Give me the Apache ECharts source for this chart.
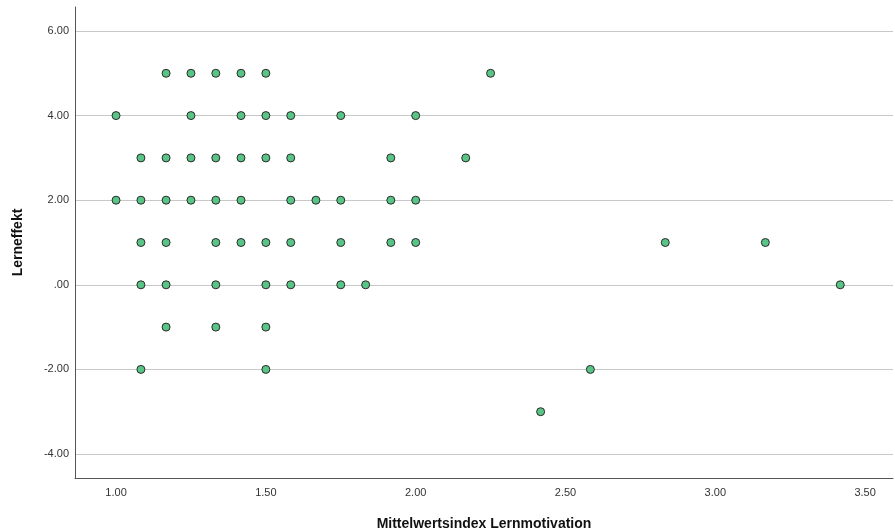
<!DOCTYPE html>
<html>
<head>
<meta charset="utf-8">
<script src="https://cdn.jsdelivr.net/npm/echarts@6/dist/echarts.min.js"></script>
<style>
  html, body { margin: 0; padding: 0; background: #fff; }
  #chart { width: 895px; height: 530px; }
</style>
</head>
<body>
<div id="chart"></div>
<script>
// Lernmotivation index is on a 1/12 grid, Lerneffekt is integer
var xTicks = [1, 1.5, 2, 2.5, 3, 3.5];
var yTicks = [-4, -2, 0, 2, 4, 6];

var row5 = [1.167, 1.25, 1.333, 1.417, 1.5, 2.25];
var row4 = [1.0, 1.25, 1.417, 1.5, 1.583, 1.75, 2.0];
var row3 = [1.083, 1.167, 1.25, 1.333, 1.417, 1.5, 1.583, 1.917, 2.167];
var row2 = [1.0, 1.083, 1.167, 1.25, 1.333, 1.417, 1.583, 1.667, 1.75, 1.917, 2.0];
var row1 = [1.083, 1.167, 1.333, 1.417, 1.5, 1.583, 1.75, 1.917, 2.0, 2.833, 3.167];
var row0 = [1.083, 1.167, 1.333, 1.5, 1.583, 1.75, 1.833, 3.417];
var rowM1 = [1.167, 1.333, 1.5];
var rowM2 = [1.083, 1.5, 2.583];
var rowM3 = [2.417];

var rows = [
  [5, row5], [4, row4], [3, row3], [2, row2], [1, row1],
  [0, row0], [-1, rowM1], [-2, rowM2], [-3, rowM3]
];

var points = [];
rows.forEach(function (r) {
  r[1].forEach(function (x) {
    points.push([x, r[0]]);
  });
});

function fmt(v) {
  var s = v.toFixed(2);
  if (s.indexOf('0.') === 0) s = s.substring(1);
  return s;
}

var chart = echarts.init(document.getElementById('chart'), null, { renderer: 'canvas' });

var option = {
  backgroundColor: '#ffffff',
  animation: false,
  grid: {
    left: 75,
    right: 2,
    top: 7,
    bottom: 52,
    outerBoundsMode: 'none',
    containLabel: false
  },
  xAxis: {
    type: 'value',
    min: 0.863,
    max: 3.593,
    name: 'Mittelwertsindex Lernmotivation',
    nameLocation: 'middle',
    nameGap: 39,
    nameTextStyle: {
      fontFamily: 'Liberation Sans',
      fontWeight: 'bold',
      fontSize: 14,
      color: '#111'
    },
    axisLine: {
      show: true,
      onZero: false,
      lineStyle: { color: '#555', width: 1 }
    },
    axisTick: { show: false, customValues: xTicks },
    axisLabel: {
      customValues: xTicks,
      margin: 9,
      fontFamily: 'Liberation Sans',
      fontSize: 11,
      color: '#333',
      formatter: fmt
    },
    splitLine: { show: false }
  },
  yAxis: {
    type: 'value',
    min: -4.567,
    max: 6.567,
    name: 'Lerneffekt',
    nameLocation: 'middle',
    nameGap: 50,
    nameTextStyle: {
      fontFamily: 'Liberation Sans',
      fontWeight: 'bold',
      fontSize: 14,
      color: '#111'
    },
    axisLine: {
      show: true,
      onZero: false,
      lineStyle: { color: '#555', width: 1 }
    },
    axisTick: { show: false, customValues: yTicks },
    axisLabel: {
      customValues: yTicks,
      margin: 6,
      fontFamily: 'Liberation Sans',
      fontSize: 11,
      color: '#333',
      formatter: fmt
    },
    splitLine: {
      show: true,
      lineStyle: { color: '#c8c8c8', width: 1 }
    }
  },
  series: [{
    type: 'scatter',
    symbol: 'circle',
    symbolSize: 8,
    itemStyle: {
      color: '#58c486',
      borderColor: '#2a2a2a',
      borderWidth: 1,
      opacity: 1
    },
    data: points
  }]
};

chart.setOption(option);
</script>
</body>
</html>
